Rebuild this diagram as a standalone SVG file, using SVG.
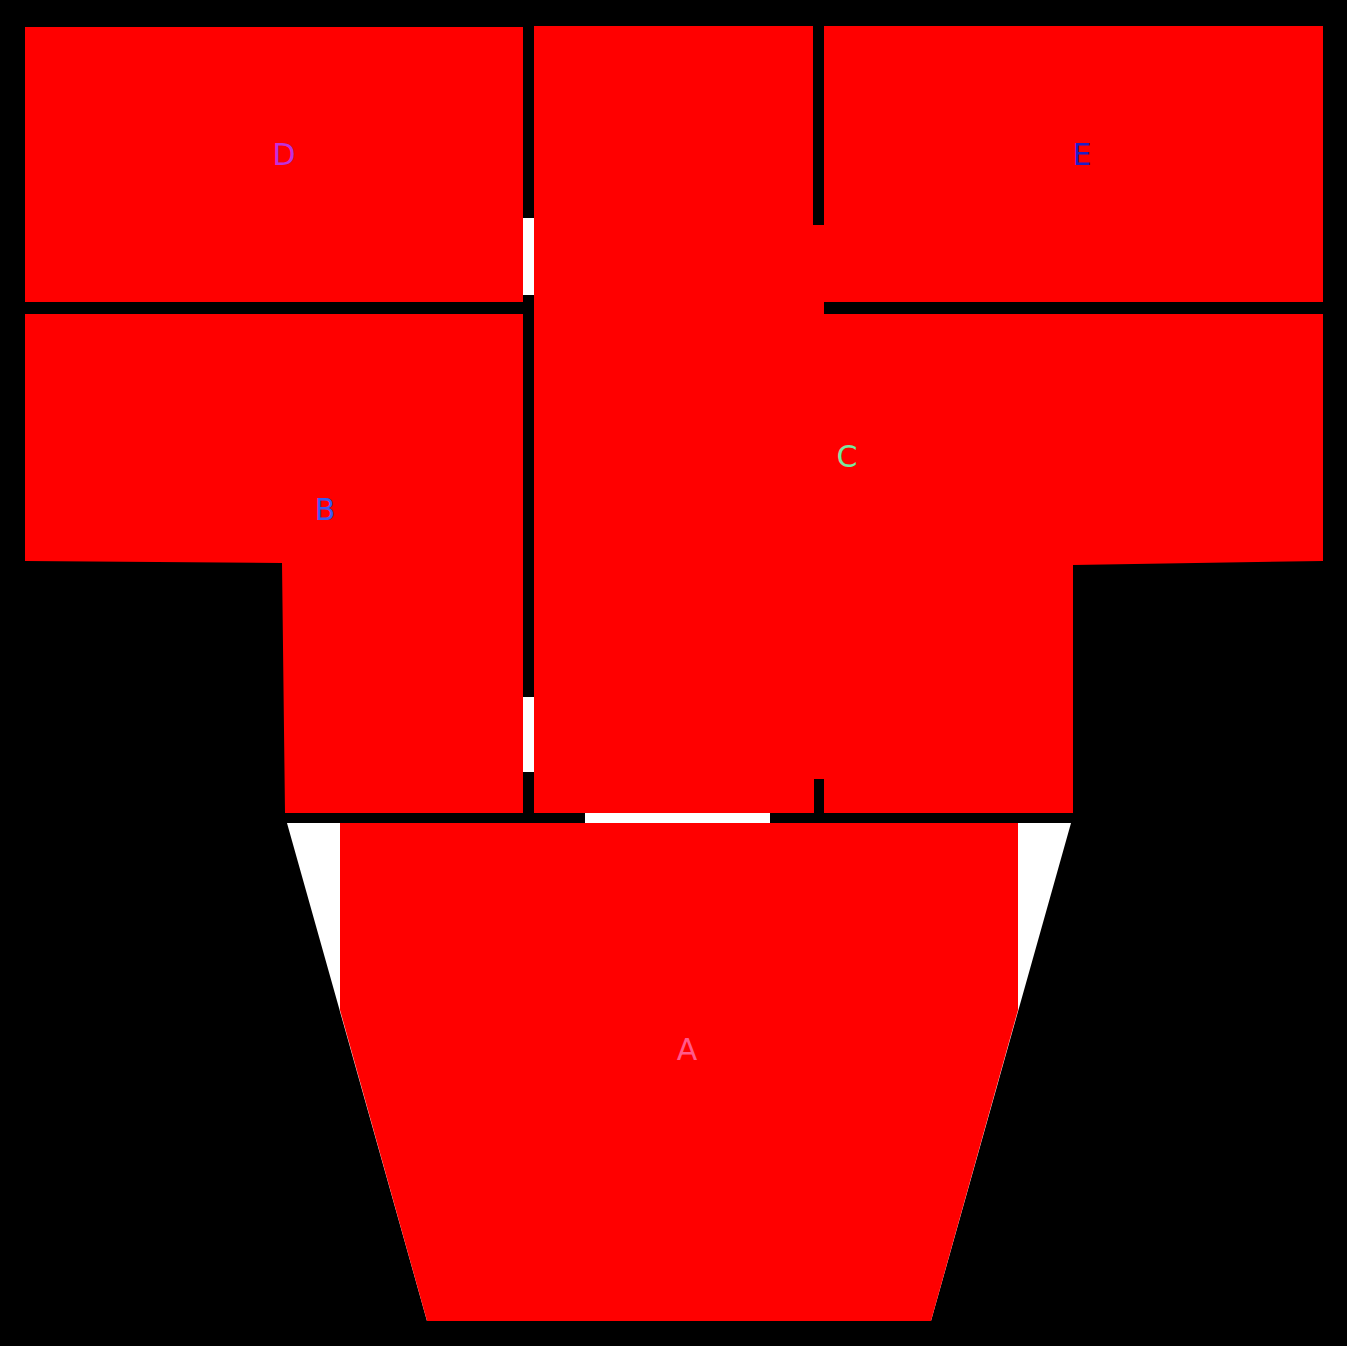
<svg xmlns="http://www.w3.org/2000/svg" width="1347" height="1346" viewBox="0 0 1347 1346">
<style>
.r{fill:#ff0000}
.w{fill:#ffffff}
text{font-family:"DejaVu Sans",sans-serif;font-size:30px;text-anchor:middle}
</style>
<rect x="0" y="0" width="1347" height="1346" fill="#000"/>
<g id="gaps">
<rect class="w" x="523" y="218" width="11" height="77"/>
<rect class="w" x="523" y="697" width="11" height="75"/>
<rect class="w" x="585" y="813" width="185" height="10"/>
<polygon class="w" points="287,823 1071,823 931,1321 427,1321"/>
</g>
<g id="D"><rect class="r" x="25" y="27" width="498" height="275"/><text x="284" y="165" fill="#c030dc">D</text></g>
<g id="E"><rect class="r" x="824" y="26" width="499" height="276"/><text x="1082" y="165" fill="#1e1ec8">E</text></g>
<g id="B"><polygon class="r" points="25,314 523,314 523,813 285,813 282,563 25,561"/><text x="325" y="520" fill="#3c5af0">B</text></g>
<g id="C"><polygon class="r" points="534,26 813,26 813,225 824,225 824,314 1323,314 1323,561 1073,565 1073,813 824,813 824,779 814,779 814,813 534,813"/><text x="847" y="467" fill="#78e6a0">C</text></g>
<g id="A"><polygon class="r" points="340,823 1018,823 1018,1010 931,1321 427,1321 340,1010"/><text x="687" y="1060" fill="#ff5a8c">A</text></g>
<g id="connectors"></g>
</svg>
